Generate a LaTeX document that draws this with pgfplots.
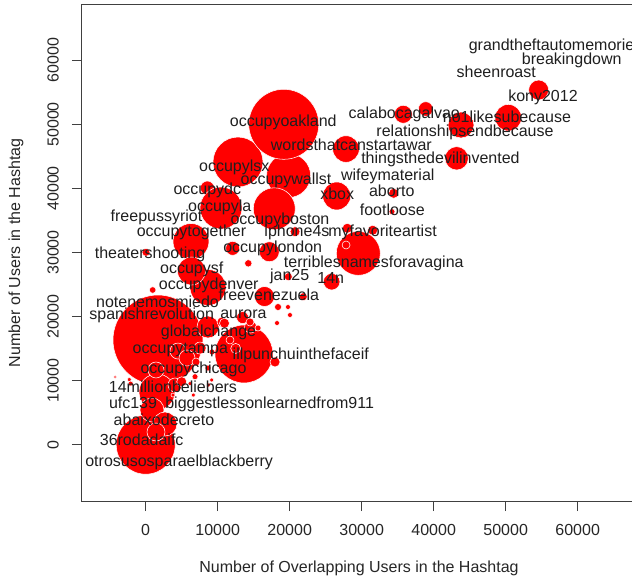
\documentclass[border=0pt]{standalone}
\usepackage{pgfplots}
\pgfplotsset{compat=1.18}
\usepackage{fontspec}
\setmainfont{Liberation Sans}
\pgfplotstableread{
x y r
1710 16340 45
12820 44120 25
19850 42010 22
19180 50010 35
13650 14160 29
0 0 29.5
29530 29870 22
8560 40070 7
10460 36940 21
17860 36820 21
6290 31720 18
8650 24540 18
6360 27110 14
1570 8230 18
26530 38820 14
27820 46150 13.3
50360 51040 13.3
43790 49900 13
43190 44700 11.7
54580 55360 10
35780 51570 9
38890 52400 7.3
870 5420 12
2680 3230 12
8650 18370 11
16500 23130 10
17170 30120 10
25830 25440 8.3
1430 1980 9
4490 14620 8
5740 13530 8
1430 11660 8
12080 30650 7
4070 9320 7
7540 15090 6
13460 19840 6
14570 18370 6
34440 39240 5
20740 33250 5
31530 33480 5
28000 33780 5
17960 12910 5
10600 19150 5
10940 18960 5
12500 15030 5
27830 31170 4
19810 26220 4
21890 23100 4
40 30030 4
11710 16340 4
14490 19150 4
6990 12910 4
14250 28310 3.7
18380 21490 3.5
970 24150 3.3
34210 36370 3
15600 18210 3
8650 11970 3
9210 14470 3
19760 21490 2.5
18240 18990 2.5
20040 20240 2.5
-4250 10570 1.5
-2280 10170 2
-2080 9540 2.5
5000 9830 5
6850 10610 3
6150 9540 2
9170 10100 2
8700 9310 2
6610 7750 2
3790 7750 2
48900 58600 1
59200 59900 0.8
33300 41900 0.8
}\bubbles
\newcommand{\lab}[3]{\begin{pgfonlayer}{axis foreground}\node[anchor=mid, inner sep=0pt, text=black!88] at (axis cs:#1,#2) {#3};\end{pgfonlayer}}
\begin{document}
\begin{tikzpicture}[font=\fontsize{12pt}{14pt}\selectfont]
\begin{axis}[
  set layers=standard,
  scale only axis, width=415.5pt, height=372.2pt,
  xmin=-8847, xmax=68100, ymin=-8787, ymax=68675,
  axis line style={black!75, line width=0.75pt},
  tick style={black!75, line width=0.75pt},
  tick align=outside, major tick length=7.5pt,
  xtick={0,10000,...,60000}, ytick={0,10000,...,60000},
  xtick pos=bottom, ytick pos=left,
  scaled ticks=false,
  /pgf/number format/1000 sep={},
  /pgf/number format/assume math mode=true,
  ticklabel style={font=\fontsize{12pt}{14pt}\selectfont, text=black!85},
  yticklabel style={rotate=90, anchor=center},
  xticklabel style={anchor=center},
  xticklabel shift=14.25pt, yticklabel shift=14.25pt,
  xlabel={Number of Overlapping Users in the Hashtag},
  ylabel={Number of Users in the Hashtag},
  every axis x label/.style={at={(axis description cs:0.5,0)}, anchor=center, yshift=-50.25pt, text=black!85},
  every axis y label/.style={at={(axis description cs:0,0.5)}, xshift=-49.5pt, rotate=90, anchor=center, text=black!85},
  clip=false,
]
\addplot[scatter, only marks, mark=*,
  scatter/use mapped color={draw=white, fill=red},
  visualization depends on={0.75*\thisrow{r} \as \rr},
  scatter/@pre marker code/.append style={/tikz/mark size=\rr pt, /tikz/line width=0.6pt}
] table[x=x, y=y] {\bubbles};
\lab{56920}{62120}{grandtheftautomemories}
\lab{59170}{59930}{breakingdown}
\lab{48690}{57810}{sheenroast}
\lab{55180}{54070}{kony2012}
\lab{35920}{51460}{calabocagalvao}
\lab{50180}{50790}{no1likesubecause}
\lab{44350}{48700}{relationshipsendbecause}
\lab{19110}{50260}{occupyoakland}
\lab{28560}{46420}{wordsthatcanstartawar}
\lab{40940}{44440}{thingsthedevilinvented}
\lab{12310}{43140}{occupylsx}
\lab{19490}{41210}{occupywallst}
\lab{33630}{41740}{wifeymaterial}
\lab{8560}{39640}{occupydc}
\lab{26600}{38820}{xbox}
\lab{34180}{39240}{aborto}
\lab{10290}{36990}{occupyla}
\lab{34250}{36270}{footloose}
\lab{1500}{35380}{freepussyriot}
\lab{18650}{34960}{occupyboston}
\lab{6360}{33000}{occupytogether}
\lab{21010}{33000}{iphone4s}
\lab{32890}{33000}{myfavoriteartist}
\lab{17640}{30500}{occupylondon}
\lab{600}{29610}{theatershooting}
\lab{31680}{28200}{terriblesnamesforavagina}
\lab{6390}{27270}{occupysf}
\lab{20000}{26220}{jan25}
\lab{25710}{25710}{14n}
\lab{8760}{24820}{occupydenver}
\lab{17100}{23100}{freevenezuela}
\lab{1640}{21960}{notenemosmiedo}
\lab{830}{20090}{spanishrevolution}
\lab{13580}{20240}{aurora}
\lab{8720}{17480}{globalchange}
\lab{4810}{14780}{occupytampa}
\lab{21540}{13860}{illpunchuinthefaceif}
\lab{6640}{11720}{occupychicago}
\lab{3790}{8690}{14millionbeliebers}
\lab{-1760}{6200}{ufc139}
\lab{17220}{6210}{biggestlessonlearnedfrom911}
\lab{2540}{3590}{abaixodecreto}
\lab{-560}{470}{36rodadaifc}
\lab{4650}{-2780}{otrosusosparaelblackberry}
\end{axis}
\pgfresetboundingbox
\path[use as bounding box] (-61.5pt,-60.75pt) rectangle (412.5pt,375.75pt);
\end{tikzpicture}
\end{document}
